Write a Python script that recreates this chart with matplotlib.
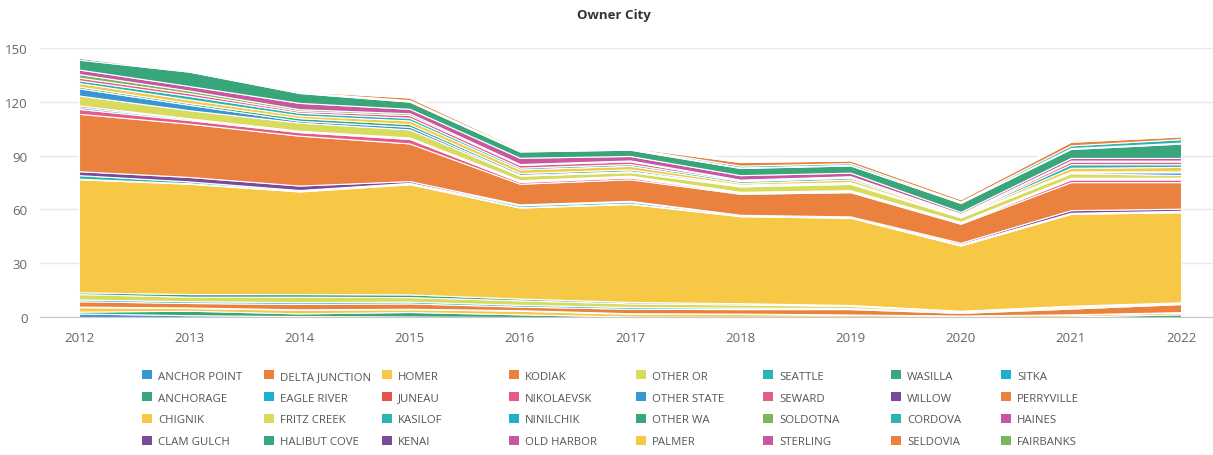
import matplotlib.pyplot as plt
from matplotlib.patches import Patch

years = [2012, 2013, 2014, 2015, 2016, 2017, 2018, 2019, 2020, 2021, 2022]

anchor_point = [2, 1, 0.5, 0.3, 0, 0, 0, 0, 0, 0, 0]
anchorage = [1, 2.5, 1.5, 2.5, 1.5, 0.3, 0.2, 0.2, 0, 0.3, 1.5]
chignik = [2.5, 1.5, 2, 1.5, 2, 1.5, 1.5, 1, 0.8, 1, 1]
clam_gulch = [0.3, 0.3, 0.3, 0.3, 0.3, 0.3, 0.2, 0.2, 0, 0.2, 0.2]
delta_junction = [3, 2.5, 3, 3, 2, 2.5, 2.5, 3, 1.5, 3.2, 4.5]
eagle_river = [1, 1, 1, 1, 1, 1, 0.8, 0.6, 0.5, 0.5, 0.4]
fritz_creek = [3, 2.5, 3, 2.5, 2.5, 2, 1.8, 1.2, 0.5, 0.8, 0.4]
halibut_cove = [1, 1.5, 1.5, 1.5, 1, 0.8, 0.7, 0.5, 0.2, 0.3, 0.2]
homer = [63, 61.5, 57.2, 61.4, 50.7, 54.6, 48.5, 48.6, 36.3, 51.2, 50.2]
juneau = [0.3, 0.3, 0.3, 0.3, 0.3, 0.3, 0.3, 0.3, 0.3, 0.3, 0.3]
kasilof = [2, 1, 0.5, 0.5, 1, 1, 0.5, 0.3, 0.5, 0.3, 0.5]
kenai = [2.2, 2.5, 2.5, 1, 0.5, 0.5, 0, 0.2, 0.8, 1.5, 1.2]
kodiak = [32, 29.7, 27.8, 21, 11.5, 12, 11.7, 13.5, 10.6, 15.6, 14.8]
nikolaevsk = [2.7, 2, 2, 2.5, 1, 1, 0.5, 0.5, 0.5, 1.5, 1.5]
ninilchik = [1, 0.7, 0.5, 0.5, 0.5, 0.5, 0.3, 0.3, 0.3, 0.5, 0.5]
old_harbor = [1, 0.3, 0.3, 0.3, 0.5, 0.5, 0.3, 0.3, 0.3, 0.5, 0.5]
other_or = [5.5, 4.5, 4.5, 4.5, 2.5, 2, 3, 3.5, 2.5, 2.5, 1.5]
other_state = [4, 3, 1, 1.5, 0.5, 0.5, 0.5, 0.5, 0.3, 0.5, 1.5]
other_wa = [1, 1, 1.5, 1.5, 1, 1, 0.5, 0.5, 0.3, 0.5, 0.5]
palmer = [2, 2, 1.5, 2, 2, 2, 1, 1.5, 0.5, 2, 2.5]
seattle = [1.5, 2, 1.5, 1.5, 1, 1, 1, 1, 0.3, 2, 1.5]
seward = [1.5, 1.5, 1, 1.5, 1.5, 1.5, 0.5, 0.5, 0.3, 1.5, 1.5]
soldotna = [2, 1.5, 1, 1, 0.5, 0.5, 0.3, 0.3, 0.3, 0.5, 0.5]
sterling = [2.5, 2.5, 3.5, 2.5, 3.5, 2.5, 2.5, 2, 1, 1.5, 1.5]
wasilla = [5.5, 8, 5.5, 4, 3.5, 3.5, 4, 4, 5, 5, 8]
willow = [1, 0.3, 0.3, 0.3, 0.3, 0.3, 0.3, 0.3, 0.3, 0.5, 0.5]
cordova = [0.5, 0.3, 0.3, 0.5, 0.5, 0.5, 1, 1, 0.5, 1.5, 2]
seldovia = [0.3, 0.3, 0.5, 1.5, 0.7, 0.5, 2, 1.5, 1.3, 2, 1.5]
sitka = [0.5, 0.3, 0.2, 0.3, 0.3, 0.3, 0.3, 0.3, 0.2, 0.5, 0.5]
perryville = [0.3, 0.2, 0.2, 0.3, 0.3, 0.3, 0.3, 0.3, 0.2, 0.5, 0.5]
haines = [0.3, 0.2, 0.2, 0.2, 0.3, 0.3, 0.3, 0.3, 0.2, 0.5, 0.5]
fairbanks = [0.3, 0.2, 0.2, 0.2, 0.3, 0.3, 0.3, 0.3, 0.2, 0.5, 0.5]

names = ['ANCHOR POINT', 'ANCHORAGE', 'CHIGNIK', 'CLAM GULCH', 'DELTA JUNCTION',
         'EAGLE RIVER', 'FRITZ CREEK', 'HALIBUT COVE', 'HOMER', 'JUNEAU', 'KASILOF',
         'KENAI', 'KODIAK', 'NIKOLAEVSK', 'NINILCHIK', 'OLD HARBOR', 'OTHER OR',
         'OTHER STATE', 'OTHER WA', 'PALMER', 'SEATTLE', 'SEWARD', 'SOLDOTNA',
         'STERLING', 'WASILLA', 'WILLOW', 'CORDOVA', 'SELDOVIA', 'SITKA',
         'PERRYVILLE', 'HAINES', 'FAIRBANKS']
series = [anchor_point, anchorage, chignik, clam_gulch, delta_junction, eagle_river,
          fritz_creek, halibut_cove, homer, juneau, kasilof, kenai, kodiak, nikolaevsk,
          ninilchik, old_harbor, other_or, other_state, other_wa, palmer, seattle,
          seward, soldotna, sterling, wasilla, willow, cordova, seldovia, sitka,
          perryville, haines, fairbanks]

blue, green, yellow, purple = '#3a95d5', '#38a57b', '#f6c846', '#7b4b9b'
orange, cyan, ygreen, red = '#ea813e', '#1eafd1', '#d8db5c', '#e5534f'
teal, pink, magenta, lgreen = '#2cb5b0', '#e65a88', '#c657a0', '#7ab65c'
colors = [blue, green, yellow, purple, orange, cyan, ygreen, green, yellow, red, teal,
          purple, orange, pink, cyan, magenta, ygreen, blue, green, yellow, teal, pink,
          lgreen, magenta, green, purple, teal, orange, cyan, orange, magenta, lgreen]

plt.rcParams['font.family'] = ['Open Sans', 'DejaVu Sans']

fig = plt.figure(figsize=(12.13, 4.56), dpi=100)
ax = fig.add_axes([40 / 1213, 1 - 318 / 456, 1 - 40 / 1213, (318 - 49) / 456])
ax.stackplot(years, series, colors=colors, edgecolor='white', linewidth=0.8)

ax.set_xlim(2011.646, 2022.29)
ax.set_ylim(0, 150)
ax.set_yticks([0, 30, 60, 90, 120, 150])
ax.set_xticks(years)
ax.grid(axis='y', color='#e8e8e8', linewidth=1)
ax.set_axisbelow(True)
for s in ['top', 'right', 'left']:
    ax.spines[s].set_visible(False)
ax.spines['bottom'].set_color('#c8c8c8')
ax.tick_params(axis='both', length=0, labelsize=9.5, labelcolor='#666666')
ax.tick_params(axis='y', pad=9)
ax.tick_params(axis='x', pad=10)

fig.text(614 / 1213, 1 - 15 / 456, 'Owner City', ha='center', va='center',
         fontsize=9.5, fontweight='bold', color='#333333')

handles = [Patch(facecolor=c, edgecolor='none') for c in colors]
col_x = [142, 264, 382, 509, 636, 763, 891, 1001]
for i, x in enumerate(col_x):
    fig.legend(handles[i * 4:(i + 1) * 4], names[i * 4:(i + 1) * 4],
               loc='upper left', bbox_to_anchor=(x / 1213, 1 - 371 / 456),
               frameon=False, fontsize=8.2, labelcolor='#555555',
               handlelength=0.9, handleheight=0.9, handletextpad=0.5,
               labelspacing=0.9, borderpad=0, borderaxespad=0)

fig.savefig('out.png', dpi=100)
